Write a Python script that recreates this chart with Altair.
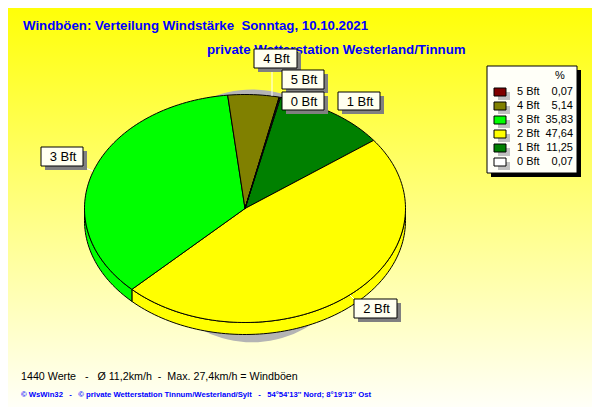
import math
import altair as alt
import pandas as pd

# Chart values, clockwise from the start angle
names = ["1 Bft", "2 Bft", "3 Bft", "4 Bft", "5 Bft", "0 Bft"]
percent = [11.25, 47.64, 35.83, 5.14, 0.07, 0.07]
colors = ["#008000", "#FFFF00", "#00FF00", "#808000", "#800000", "#FFFFFF"]

legend_names = ["5 Bft", "4 Bft", "3 Bft", "2 Bft", "1 Bft", "0 Bft"]
legend_values = ["0,07", "5,14", "35,83", "47,64", "11,25", "0,07"]
legend_colors = ["#800000", "#808000", "#00FF00", "#FFFF00", "#008000", "#FFFFFF"]

NB = "\u00a0"
title_1 = f"Windböen: Verteilung Windstärke {NB}Sonntag, 10.10.2021"
title_2 = "private Wetterstation Westerland/Tinnum"
footer_1 = f"1440 Werte {NB}{NB}-{NB}{NB} Ø 11,2km/h {NB}-{NB} Max. 27,4km/h = Windböen"
footer_2 = f"© WsWin32 {NB}{NB}-{NB}{NB} © private Wetterstation Tinnum/Westerland/Sylt {NB}{NB}-{NB}{NB} 54°54'13'' Nord; 8°19'13'' Ost"

START = 12.8
M = 8  # page margin: reference pixel minus M is the chart pixel
W, H = 584, 399
CX, CY, RX, RY = 245 - M, 208.5 - M, 160.5, 114
DEPTH = 12 / RY

xs = alt.Scale(domain=[-1, 1], range=[CX - RX, CX + RX])
ys = alt.Scale(domain=[-1, 1], range=[CY + RY, CY - RY])


def pt(a, r=1.0, dy=0.0):
    t = math.radians(a)
    return r * math.sin(t), r * math.cos(t) - dy


top_rows, side_rows = [], []
a = START
for name, p in zip(names, percent):
    b = a + p * 3.6
    n = max(2, int((b - a) / 1.5))
    arc = [a + (b - a) * i / n for i in range(n + 1)]
    pts = [(0.0, 0.0)] + [pt(v) for v in arc] + [(0.0, 0.0)]
    for i, (x, y) in enumerate(pts):
        top_rows.append(dict(name=name, x=x, y=y, i=i))
    lo, hi = max(a, 90), min(b, 270)
    if hi > lo:
        m = max(2, int((hi - lo) / 1.5))
        arc = [lo + (hi - lo) * i / m for i in range(m + 1)]
        pts = [pt(v) for v in arc] + [pt(v, dy=DEPTH) for v in reversed(arc)]
        pts.append(pts[0])
        for i, (x, y) in enumerate(pts):
            side_rows.append(dict(name=name, x=x, y=y, i=i))
    a = b

fill = alt.Fill("name:N", scale=alt.Scale(domain=names, range=colors), legend=None)


def poly(rows):
    return alt.Chart(pd.DataFrame(rows)).mark_line(
        stroke="black", strokeWidth=1, strokeJoin="round"
    ).encode(
        x=alt.X("x:Q", scale=xs, axis=None),
        y=alt.Y("y:Q", scale=ys, axis=None),
        order="i:Q",
        fill=fill,
    )


one = alt.Chart(pd.DataFrame({"a": [0]}))


def rect(x1, y1, x2, y2, **kw):
    return one.mark_rect(**kw).encode(
        x=alt.value(x1 - M), x2=alt.value(x2 - M), y=alt.value(y1 - M), y2=alt.value(y2 - M)
    )


def text(s, x, y, **kw):
    base = dict(font="Liberation Sans", fontSize=12, color="black", align="left", baseline="middle")
    base.update(kw)
    return one.mark_text(text=s, **base).encode(x=alt.value(x - M), y=alt.value(y - M))


def rule(x1, y1, x2, y2, **kw):
    return one.mark_rule(**kw).encode(
        x=alt.value(x1 - M), x2=alt.value(x2 - M), y=alt.value(y1 - M), y2=alt.value(y2 - M)
    )


gradient = alt.LinearGradient(
    gradient="linear",
    x1=0, y1=0, x2=0, y2=1,
    stops=[
        alt.GradientStop(offset=0, color="#FFFF08"),
        alt.GradientStop(offset=0.5, color="#FFFF80"),
        alt.GradientStop(offset=1, color="#FFFFF8"),
    ],
)

layers = [rect(M, M, M + W, M + H, fill=gradient)]

layers += [
    text(title_1, 23, 25.5, fontSize=13.25, fontWeight="bold", color="#0000FF"),
    text(title_2, 207, 49.5, fontSize=13.3, fontWeight="bold", color="#0000FF"),
    text(footer_1, 21, 377, fontSize=10.7),
    text(footer_2, 21, 394.5, fontSize=7.7, fontWeight="bold", color="#0000FF"),
]

# Shadow of the pie
shadow = [dict(x=(7 + 115 * math.sin(math.radians(v))) / RX, y=1.10 * math.cos(math.radians(v)) - 0.065, i=v)
          for v in range(0, 361, 3)]
layers.append(
    alt.Chart(pd.DataFrame(shadow)).mark_line(fill="#B4B4B4", stroke="#B4B4B4").encode(
        x=alt.X("x:Q", scale=xs, axis=None), y=alt.Y("y:Q", scale=ys, axis=None), order="i:Q"
    )
)
layers.append(poly(side_rows))
layers.append(poly(top_rows))

# Leader lines
for seg in [(272, 68, 272, 96), (83, 167, 93, 171), (350, 295, 355, 300)]:
    layers.append(rule(*seg, stroke="white", strokeWidth=1))

# Slice labels
boxes = [
    ("4 Bft", 254, 49, 297, 68),
    ("5 Bft", 282, 70, 324, 89),
    ("0 Bft", 282, 92, 324, 110),
    ("1 Bft", 338, 92, 380, 110),
    ("3 Bft", 41, 147, 83, 166),
    ("2 Bft", 354, 299, 397, 318),
]
for s, x1, y1, x2, y2 in boxes:
    layers.append(rect(x1 + 4, y1 + 4, x2 + 4, y2 + 4, fill="#808080"))
    layers.append(rect(x1, y1, x2, y2, fill="#FFFFF0", stroke="black", strokeWidth=1))
    layers.append(text(s, (x1 + x2) / 2 + 1, (y1 + y2) / 2 + 0.5, align="center", fontSize=13))

# Legend
layers.append(rect(491, 70, 581, 177, fill="black"))
layers.append(rect(487, 66, 577, 173, fill="#FFFFF8", stroke="black", strokeWidth=1))
layers.append(text("%", 560, 76, align="center", fontSize=11))
for k, (s, v, c) in enumerate(zip(legend_names, legend_values, legend_colors)):
    y = 92 + 14 * k
    layers.append(rect(498, y, 510, y + 8, fill="#C0C0C0"))
    layers.append(rect(494, y - 4, 506, y + 4, fill=c, stroke="black", strokeWidth=1))
    layers.append(text(s, 517, y, fontSize=11))
    layers.append(text(v, 573, y, fontSize=11, align="right"))

chart = alt.layer(*layers).properties(
    width=W, height=H, padding=0, autosize=alt.AutoSizeParams(type="none")
).configure_view(stroke=None)

chart.save("out.html", embed_options={"renderer": "svg", "actions": False})
